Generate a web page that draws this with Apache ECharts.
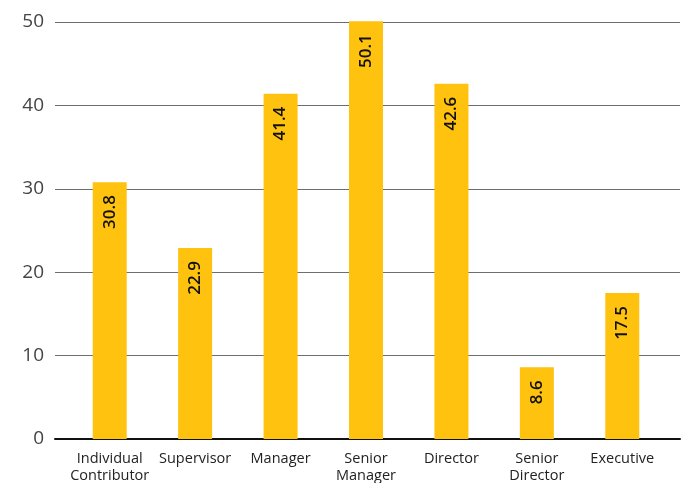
<!DOCTYPE html>
<html>
<head>
<meta charset="utf-8">
<script src="https://cdn.jsdelivr.net/npm/echarts@6/dist/echarts.min.js"></script>
<style>
  html, body { margin: 0; padding: 0; background: #fff; }
  #chart { width: 685px; height: 483px; }
</style>
</head>
<body>
<div id="chart"></div>
<script>
// Job levels and their values
const categories = [
  'Individual\nContributor',
  'Supervisor',
  'Manager',
  'Senior\nManager',
  'Director',
  'Senior\nDirector',
  'Executive'
];
const values = [30.8, 22.9, 41.4, 50.1, 42.6, 8.6, 17.5];
const yTicks = [0, 10, 20, 30, 40, 50];

const FONT = '"Open Sans", "Noto Sans", sans-serif';
const chart = echarts.init(document.getElementById('chart'), null, { renderer: 'canvas' });

chart.setOption({
  animation: false,
  backgroundColor: '#ffffff',
  grid: [
    // wide grid: horizontal rules and the baseline
    { left: 55, right: 5, top: 22, bottom: 44, outerBoundsMode: 'none', containLabel: false },
    // inner grid: the bars and their category labels
    { left: 67, right: 20, top: 22, bottom: 44, outerBoundsMode: 'none', containLabel: false }
  ],
  xAxis: [
    {
      type: 'value', gridIndex: 0, min: 0, max: 1,
      axisLine: { show: true, lineStyle: { color: '#111', width: 2 } },
      axisTick: { show: false }, axisLabel: { show: false }, splitLine: { show: false }
    },
    {
      type: 'category', gridIndex: 1, data: categories,
      axisLine: { show: false }, axisTick: { show: false },
      axisLabel: {
        margin: 11, fontFamily: FONT, fontSize: 14.5, color: '#222', lineHeight: 17,
        interval: 0
      }
    }
  ],
  yAxis: [
    {
      type: 'value', gridIndex: 0, min: yTicks[0], max: yTicks[yTicks.length - 1], interval: 10,
      axisLine: { show: false }, axisTick: { show: false },
      axisLabel: { margin: 11, fontFamily: FONT, fontSize: 19, color: '#444' },
      splitLine: { show: true, lineStyle: { color: '#6e6e6e', width: 1 } }
    },
    {
      type: 'value', gridIndex: 1, min: yTicks[0], max: yTicks[yTicks.length - 1],
      show: false, splitLine: { show: false }
    }
  ],
  series: [{
    type: 'bar',
    xAxisIndex: 1, yAxisIndex: 1,
    data: values,
    barWidth: 34,
    clip: false,
    itemStyle: { color: '#FFC20E' },
    label: {
      show: true,
      position: 'insideTop',
      rotate: 90,
      align: 'right',
      verticalAlign: 'middle',
      distance: 13,
      fontFamily: FONT,
      fontSize: 17,
      fontWeight: 600,
      color: '#111',
      formatter: p => p.value.toFixed(1)
    }
  }]
});
</script>
</body>
</html>
